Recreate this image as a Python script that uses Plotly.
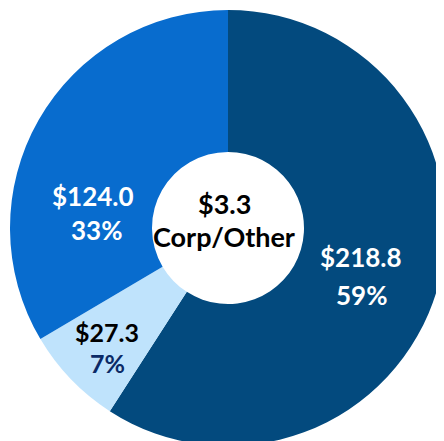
import plotly.graph_objects as go

segments = ["Segment A", "Segment B", "Segment C"]
values = [218.8, 27.3, 124.0]
value_labels = ["$218.8", "$27.3", "$124.0"]
pct_labels = ["59%", "7%", "33%"]
center_value = "$3.3"
center_label = "Corp/Other"

colors = ["#034A7E", "#BFE3FC", "#086CCE"]
value_colors = ["#FFFFFF", "#000000", "#FFFFFF"]
pct_colors = ["#FFFFFF", "#0B2A66", "#FFFFFF"]

W, H = 444, 441
OFF = 8  # default page body margin
FONT = "Lato, 'Open Sans', sans-serif"

# pie: center (228,228) radius 218 in the viewport
cx, cy, r = 228 - OFF, 228 - OFF, 218
fig = go.Figure(go.Pie(
    labels=segments,
    values=values,
    sort=False,
    direction="clockwise",
    rotation=0,
    hole=76 / 218,
    marker=dict(colors=colors, line=dict(width=0)),
    textinfo="none",
    hoverinfo="label+value+percent",
    showlegend=False,
    domain=dict(x=[(cx - r) / W, (cx + r) / W],
                y=[(H - (cy + r)) / H, (H - (cy - r)) / H]),
))

# label positions in viewport pixels (from top-left)
value_pos = [(361, 257), (107, 332), (93, 196)]
pct_pos = [(361, 295), (107, 363), (96, 230)]
label_sizes = [26, 25, 26]


def px(x, y):
    return (x - OFF) / W, 1 - (y - OFF) / H


ann = []
for i in range(len(values)):
    x, y = px(*value_pos[i])
    ann.append(dict(x=x, y=y, xref="paper", yref="paper",
                    text="<b>" + value_labels[i] + "</b>", showarrow=False,
                    font=dict(family=FONT, size=label_sizes[i], color=value_colors[i]),
                    xanchor="center", yanchor="middle", borderpad=0))
    x, y = px(*pct_pos[i])
    ann.append(dict(x=x, y=y, xref="paper", yref="paper",
                    text="<b>" + pct_labels[i] + "</b>", showarrow=False,
                    font=dict(family=FONT, size=label_sizes[i], color=pct_colors[i]),
                    xanchor="center", yanchor="middle", borderpad=0))

x, y = px(224, 203)
ann.append(dict(x=x, y=y, xref="paper", yref="paper",
                text="<b>" + center_value + "</b>", showarrow=False,
                font=dict(family=FONT, size=27, color="#000000"),
                xanchor="center", yanchor="middle", borderpad=0))
x, y = px(224, 237)
ann.append(dict(x=x, y=y, xref="paper", yref="paper",
                text="<b>" + center_label + "</b>", showarrow=False,
                font=dict(family=FONT, size=27, color="#000000"),
                xanchor="center", yanchor="middle", borderpad=0))

fig.update_layout(
    width=W, height=H,
    margin=dict(l=0, r=0, t=0, b=0),
    paper_bgcolor="white",
    plot_bgcolor="white",
    annotations=ann,
)

fig.write_html("out.html")
